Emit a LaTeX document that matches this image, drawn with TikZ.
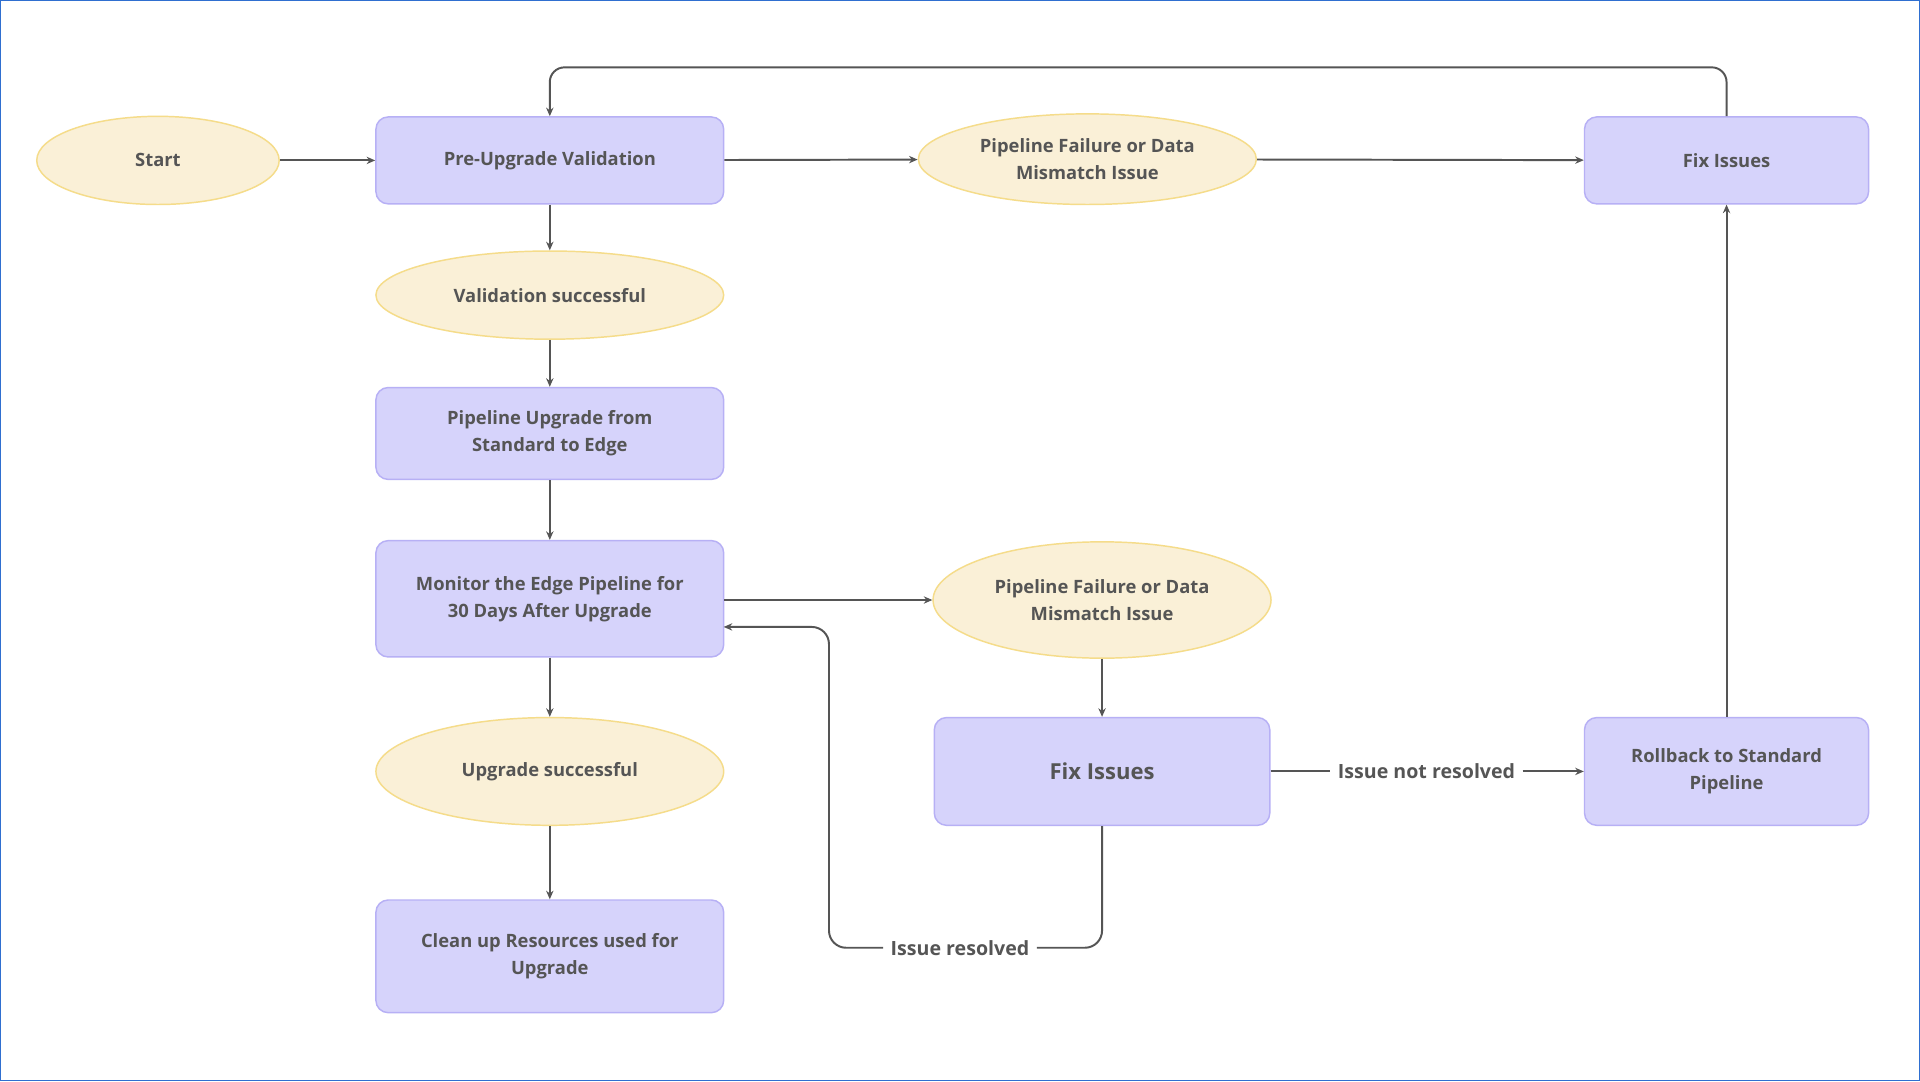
\documentclass[tikz,border=0pt]{standalone}
\usepackage{fontspec}
\setmainfont{Open Sans}
\usetikzlibrary{shapes.geometric,arrows.meta}
\definecolor{rf}{HTML}{D6D3FB}\definecolor{rb}{HTML}{B7B0F5}
\definecolor{ef}{HTML}{FAF0D7}\definecolor{eb}{HTML}{F5DC8A}
\definecolor{tx}{HTML}{555555}\definecolor{fr}{HTML}{2F6FD0}
\begin{document}
\begin{tikzpicture}[x=1pt,y=-1pt,
 every node/.style={font=\fontsize{15}{22}\selectfont\bfseries,text=tx,align=center,inner sep=0},
 box/.style={draw=rb,fill=rf,line width=1.2pt,rounded corners=10pt},
 ell/.style={ellipse,draw=eb,fill=ef,line width=1.2pt},
 lbl/.style={fill=white,inner xsep=6pt,font=\fontsize{16}{20}\selectfont\bfseries},
 ar/.style={draw=tx,line width=1.6pt,-{Stealth[length=7pt,width=6pt]}},
 ln/.style={draw=tx,line width=1.6pt}]
\draw[fr,line width=1pt,fill=white] (0.5,0.5) rectangle (1567.5,882.5);
\useasboundingbox (0,0) rectangle (1568,883);
\node[ell,minimum width=198pt,minimum height=72pt] (start) at (129,131) {Start};
\node[box,minimum width=284pt,minimum height=71pt] (pre) at (449,131) {Pre-Upgrade Validation};
\node[ell,minimum width=276pt,minimum height=74pt] (pf1) at (888,130) {Pipeline Failure or Data\\Mismatch Issue};
\node[box,minimum width=232pt,minimum height=71pt] (fix1) at (1410,131) {Fix Issues};
\node[ell,minimum width=284pt,minimum height=72pt] (vs) at (449,241) {Validation successful};
\node[box,minimum width=284pt,minimum height=75pt] (up) at (449,354) {Pipeline Upgrade from\\Standard to Edge};
\node[box,minimum width=284pt,minimum height=95pt] (mon) at (449,489) {Monitor the Edge Pipeline for\\30 Days After Upgrade};
\node[ell,minimum width=276pt,minimum height=95pt] (pf2) at (900,490) {Pipeline Failure or Data\\Mismatch Issue};
\node[ell,minimum width=284pt,minimum height=88pt] (us) at (449,630) {Upgrade successful};
\node[box,minimum width=284pt,minimum height=92pt] (clean) at (449,781) {Clean up Resources used for\\Upgrade};
\node[box,minimum width=274pt,minimum height=88pt,font=\fontsize{18}{22}\selectfont\bfseries] (fix2) at (900,630) {Fix Issues};
\node[box,minimum width=232pt,minimum height=88pt] (rb) at (1410,630) {Rollback to Standard\\Pipeline};
\node[lbl] (nr) at (1165,630) {Issue not resolved};
\node[lbl] (ir) at (784,774) {Issue resolved};
\coordinate (m1) at (591,512);
\draw[ar] (start) -- (pre);
\draw[ar] (pre) -- (pf1);
\draw[ar] (pf1) -- (fix1);
\draw[ar,rounded corners=12pt] (fix1.north) -- (1410,55) -- (449,55) -- (pre.north);
\draw[ar] (pre) -- (vs);
\draw[ar] (vs) -- (up);
\draw[ar] (up) -- (mon);
\draw[ar] (mon) -- (us);
\draw[ar] (us) -- (clean);
\draw[ar] (mon.east |- pf2) -- (pf2);
\draw[ar] (pf2) -- (fix2);
\draw[ln] (fix2) -- (nr);
\draw[ar] (nr) -- (rb);
\draw[ar] (rb) -- (fix1);
\draw[ln,rounded corners=14pt] (fix2.south) -- (900,774) -- (ir.east);
\draw[ar,rounded corners=14pt] (ir.west) -- (677,774) -- (677,512) -- (m1);
\end{tikzpicture}
\end{document}
